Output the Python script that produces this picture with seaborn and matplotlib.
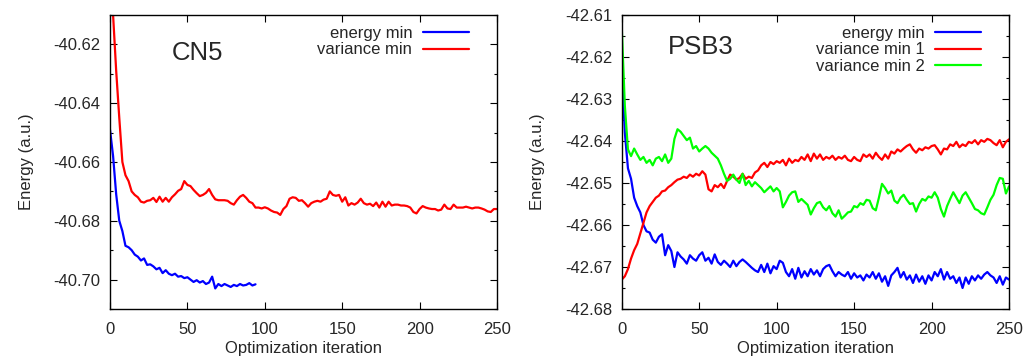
import numpy as np
import pandas as pd
import matplotlib
matplotlib.use("Agg")
import matplotlib.pyplot as plt
from matplotlib.ticker import MultipleLocator, FormatStrFormatter
import seaborn as sns

# ---------------- data ----------------
step = 2
cn5_var = [-40.603, -40.610, -40.629, -40.645, -40.660, -40.6645, -40.6665, -40.670, -40.6712, -40.672,
           -40.6735, -40.6738, -40.6732, -40.673, -40.6722, -40.6736, -40.6718, -40.6735, -40.6722, -40.6735,
           -40.672, -40.671, -40.6698, -40.6692, -40.6665, -40.6678, -40.6682, -40.6695, -40.6706, -40.6716,
           -40.6712, -40.6705, -40.6692, -40.6712, -40.6727, -40.673, -40.673, -40.673, -40.6732, -40.674,
           -40.6745, -40.673, -40.6718, -40.6712, -40.6722, -40.6735, -40.674, -40.6755, -40.6755, -40.6758,
           -40.6754, -40.6758, -40.6765, -40.677, -40.6772, -40.678, -40.676, -40.675, -40.6725, -40.672,
           -40.6722, -40.6732, -40.673, -40.674, -40.6752, -40.674, -40.6735, -40.6732, -40.6735, -40.6728,
           -40.6725, -40.670, -40.6712, -40.6715, -40.6712, -40.6735, -40.672, -40.6748, -40.674, -40.6745,
           -40.6738, -40.6725, -40.674, -40.6745, -40.6742, -40.675, -40.6738, -40.6755, -40.6735, -40.6752,
           -40.6735, -40.6748, -40.6745, -40.6745, -40.6748, -40.6748, -40.675, -40.6755, -40.677, -40.6775,
           -40.676, -40.675, -40.6755, -40.6758, -40.676, -40.676, -40.6765, -40.6762, -40.6745, -40.6758,
           -40.676, -40.6745, -40.6755, -40.6755, -40.6755, -40.6752, -40.6755, -40.6758, -40.6755, -40.6755,
           -40.6758, -40.6762, -40.6768, -40.677, -40.676, -40.676]
cn5_en = [-40.649, -40.658, -40.671, -40.680, -40.6835, -40.6885, -40.689, -40.690, -40.6915, -40.6922,
          -40.6935, -40.6928, -40.695, -40.6948, -40.6955, -40.6965, -40.696, -40.6978, -40.6968, -40.698,
          -40.6985, -40.698, -40.699, -40.6988, -40.6995, -40.6992, -40.700, -40.7008, -40.7002, -40.701,
          -40.7005, -40.7015, -40.701, -40.699, -40.703, -40.7015, -40.7022, -40.7015, -40.702, -40.7025,
          -40.7018, -40.7022, -40.7015, -40.702, -40.7018, -40.7012, -40.702, -40.7016]

psb_en = [-42.6225, -42.638, -42.6465, -42.649, -42.6535, -42.6555, -42.657, -42.660, -42.6615, -42.6618,
          -42.6635, -42.6642, -42.6628, -42.6622, -42.6672, -42.6648, -42.6662, -42.670, -42.6665, -42.6675,
          -42.6682, -42.6692, -42.6672, -42.668, -42.6685, -42.6672, -42.6665, -42.6685, -42.6678, -42.6692,
          -42.667, -42.6688, -42.6695, -42.6685, -42.6692, -42.670, -42.6685, -42.6698, -42.6688, -42.6682,
          -42.6688, -42.6695, -42.6702, -42.6708, -42.6712, -42.6695, -42.6712, -42.6692, -42.6715, -42.6698,
          -42.6705, -42.6685, -42.669, -42.6712, -42.6722, -42.6705, -42.6728, -42.6702, -42.6725, -42.671,
          -42.6722, -42.6705, -42.6718, -42.6708, -42.6722, -42.6705, -42.6698, -42.6695, -42.671, -42.6722,
          -42.6712, -42.6718, -42.6722, -42.6712, -42.6728, -42.6715, -42.6725, -42.672, -42.6732, -42.6718,
          -42.6725, -42.6712, -42.6728, -42.6715, -42.6735, -42.6722, -42.6745, -42.672, -42.6712, -42.6702,
          -42.6725, -42.6712, -42.673, -42.672, -42.6738, -42.6718, -42.6735, -42.6722, -42.674, -42.672,
          -42.6732, -42.6712, -42.6722, -42.6705, -42.673, -42.6712, -42.6728, -42.6722, -42.6738, -42.6725,
          -42.675, -42.6725, -42.674, -42.6722, -42.6732, -42.672, -42.6728, -42.6718, -42.6712, -42.672,
          -42.6725, -42.6738, -42.6722, -42.6742, -42.6725, -42.673]
psb_var1 = [-42.673, -42.6722, -42.6705, -42.668, -42.666, -42.6645, -42.662, -42.6595, -42.657, -42.6555,
            -42.6545, -42.6535, -42.653, -42.652, -42.6518, -42.651, -42.6505, -42.6498, -42.6492, -42.649,
            -42.6485, -42.6488, -42.648, -42.6485, -42.6478, -42.6482, -42.6472, -42.648, -42.6515, -42.652,
            -42.6505, -42.651, -42.6502, -42.6512, -42.6495, -42.648, -42.6485, -42.6492, -42.6488, -42.6478,
            -42.649, -42.6485, -42.6488, -42.6475, -42.647, -42.6458, -42.6452, -42.6462, -42.645, -42.6455,
            -42.6448, -42.6452, -42.6445, -42.6458, -42.6442, -42.6452, -42.6445, -42.6448, -42.6438, -42.6445,
            -42.6432, -42.6448, -42.643, -42.6442, -42.6432, -42.6445, -42.6438, -42.6442, -42.6435, -42.6445,
            -42.6438, -42.6442, -42.6435, -42.6445, -42.6448, -42.6438, -42.6445, -42.6448, -42.6432, -42.6438,
            -42.6432, -42.6442, -42.6428, -42.6438, -42.6445, -42.6432, -42.6442, -42.6425, -42.643, -42.642,
            -42.6425, -42.6418, -42.6412, -42.6408, -42.642, -42.6428, -42.6418, -42.6422, -42.6415, -42.6418,
            -42.6412, -42.641, -42.642, -42.6432, -42.6418, -42.642, -42.6408, -42.6412, -42.6402, -42.6415,
            -42.6408, -42.6412, -42.6402, -42.6405, -42.6398, -42.6408, -42.6398, -42.6402, -42.6395, -42.6398,
            -42.6405, -42.641, -42.6398, -42.6415, -42.6402, -42.6396]
psb_var2 = [-42.613, -42.6316, -42.642, -42.6436, -42.6418, -42.6432, -42.6445, -42.6438, -42.6452, -42.6445,
            -42.6458, -42.6442, -42.6438, -42.6448, -42.6432, -42.6452, -42.6442, -42.6395, -42.6372, -42.6378,
            -42.6388, -42.6398, -42.6392, -42.6418, -42.6412, -42.6425, -42.6418, -42.6412, -42.6418, -42.6428,
            -42.6435, -42.6442, -42.6458, -42.6478, -42.6495, -42.649, -42.648, -42.6492, -42.650, -42.6478,
            -42.6505, -42.6495, -42.6508, -42.6498, -42.6505, -42.6512, -42.6522, -42.6515, -42.6508, -42.652,
            -42.6512, -42.652, -42.6558, -42.6545, -42.653, -42.6522, -42.652, -42.6545, -42.6538, -42.6545,
            -42.6552, -42.6575, -42.656, -42.6548, -42.6545, -42.6558, -42.6565, -42.6555, -42.6572, -42.658,
            -42.6565, -42.6585, -42.6578, -42.657, -42.6568, -42.6555, -42.6558, -42.6548, -42.6552, -42.654,
            -42.6542, -42.656, -42.6565, -42.6535, -42.6502, -42.6512, -42.6525, -42.6518, -42.6542, -42.6548,
            -42.6535, -42.6528, -42.654, -42.655, -42.6548, -42.6568, -42.655, -42.6538, -42.6542, -42.6532,
            -42.6535, -42.6522, -42.6535, -42.6562, -42.658, -42.6555, -42.6538, -42.6522, -42.6535, -42.6548,
            -42.653, -42.6522, -42.6535, -42.6548, -42.6562, -42.6565, -42.6572, -42.6575, -42.6558, -42.654,
            -42.6528, -42.6505, -42.6488, -42.649, -42.6525, -42.6508]

x_ticks = [0, 50, 100, 150, 200, 250]
cn5_yticks = [-40.70, -40.68, -40.66, -40.64, -40.62]
psb_yticks = [-42.68, -42.67, -42.66, -42.65, -42.64, -42.63, -42.62, -42.61]

# ---------------- style ----------------
sns.set_style("ticks")
plt.rcParams['font.family'] = ['Liberation Sans', 'DejaVu Sans']
FS = 12

fig = plt.figure(figsize=(10.27, 3.62), dpi=100)
ax1 = fig.add_axes([0.1071, 0.1464, 0.3768, 0.8122])
ax2 = fig.add_axes([0.6054, 0.1464, 0.3771, 0.8122])


def draw(series, ax):
    for name, vals, color in series:
        it = np.arange(len(vals)) * step
        d = pd.DataFrame({"iteration": it, "energy": vals})
        sns.lineplot(data=d, x="iteration", y="energy", ax=ax, color=color,
                     lw=1.6, label=name, estimator=None, sort=False)


draw([("energy min", cn5_en, "#0000ff"), ("variance min", cn5_var, "#ff0000")], ax1)
draw([("energy min", psb_en, "#0000ff"), ("variance min 1", psb_var1, "#ff0000"),
      ("variance min 2", psb_var2, "#00ff00")], ax2)

for ax, yt, ylim, minor, title, tpos in [
        (ax1, cn5_yticks, (-40.71, -40.61), 0.01, "CN5", (0.225, 0.87)),
        (ax2, psb_yticks, (-42.68, -42.61), 0.005, "PSB3", (0.205, 0.89))]:
    ax.set_xlim(0, 250)
    ax.set_ylim(*ylim)
    ax.set_xticks(x_ticks)
    ax.set_yticks(yt)
    ax.yaxis.set_minor_locator(MultipleLocator(minor))
    ax.yaxis.set_major_formatter(FormatStrFormatter('%.2f'))
    ax.tick_params(which='both', direction='in', top=True, right=True, labelsize=FS,
                   color='black', width=0.8)
    ax.tick_params(which='major', length=5, pad=7)
    ax.tick_params(which='minor', length=2.5)
    ax.tick_params(axis='x', which='major', pad=9)
    for s in ax.spines.values():
        s.set_linewidth(1.0)
        s.set_color('black')
    ax.set_xlabel("Optimization iteration", fontsize=FS, labelpad=3)
    ax.set_ylabel("Energy (a.u.)", fontsize=FS, labelpad=14)
    ax.text(tpos[0], tpos[1], title, transform=ax.transAxes, fontsize=18.5,
            ha='center', va='center')
    ax.legend(loc='upper right', frameon=False, markerfirst=False, handlelength=2.75,
              fontsize=FS, labelspacing=0.08, borderaxespad=0.0, handletextpad=0.65,
              bbox_to_anchor=(0.945, 0.985))

fig.savefig("out.png", dpi=100)
